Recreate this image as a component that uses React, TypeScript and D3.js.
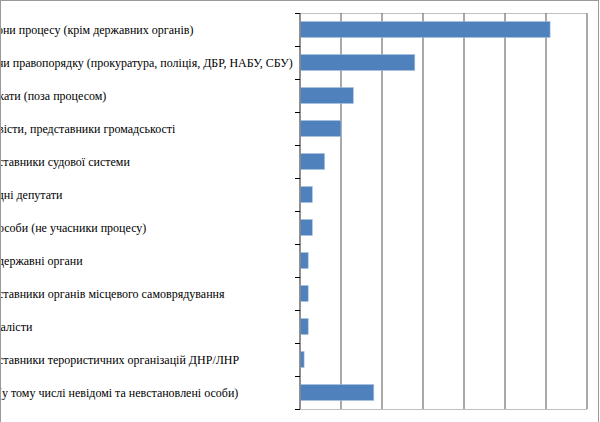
import React from "react";
import * as d3 from "d3";

const categories: string[] = [
  "Сторони процесу (крім державних органів)",
  "Органи правопорядку (прокуратура, поліція, ДБР, НАБУ, СБУ)",
  "Адвокати (поза процесом)",
  "Активісти, представники громадськості",
  "Представники судової системи",
  "Народні депутати",
  "Інші особи (не учасники процесу)",
  "Інші державні органи",
  "Представники органів місцевого самоврядування",
  "Журналісти",
  "Представники терористичних організацій ДНР/ЛНР",
  "Інші (у тому числі невідомі та невстановлені особи)",
];
const values: number[] = [61, 28, 13, 10, 6, 3, 3, 2, 2, 2, 1, 18];
const xTicks: number[] = [0, 10, 20, 30, 40, 50, 60, 70];

const W = 600;
const H = 422;
const plot = { left: 300, right: 587, top: 13, bottom: 409 };

export default function App() {
  const x = d3.scaleLinear().domain([0, 70]).range([plot.left, plot.right]);
  const y = d3
    .scaleBand<string>()
    .domain(categories)
    .range([plot.top, plot.bottom])
    .paddingInner(0.515)
    .paddingOuter(0.2575);
  const step = y.step();
  const boundaries = d3.range(categories.length + 1).map((i) => plot.top + i * step);

  return (
    <svg
      width={W}
      height={H}
      style={{ position: "absolute", left: 0, top: 0, background: "#fff" }}
    >
      <rect x={0} y={0} width={W} height={H} fill="#fff" />
      {categories.map((c) => (
        <text
          key={c}
          x={-28}
          y={(y(c) as number) + y.bandwidth() / 2 + 0.5}
          dy="0.35em"
          style={{ fontFamily: "Liberation Serif", fontSize: "12px" }}
          fill="#000"
        >
          {c}
        </text>
      ))}
      <line x1={plot.left} x2={plot.right} y1={plot.top + 0.5} y2={plot.top + 0.5} stroke="#c0c0c0" strokeWidth={1} />
      <line x1={plot.left} x2={plot.right} y1={plot.bottom + 0.5} y2={plot.bottom + 0.5} stroke="#c0c0c0" strokeWidth={1} />
      {xTicks.map((t) => (
        <line
          key={t}
          x1={x(t)}
          x2={x(t)}
          y1={plot.top}
          y2={plot.bottom}
          stroke="#858585"
          strokeWidth={1.4}
        />
      ))}
      {categories.map((c, i) => (
        <rect
          key={c}
          x={x(0)}
          y={y(c) as number}
          width={x(values[i]) - x(0)}
          height={y.bandwidth()}
          fill="#4F81BD"
          stroke="#A7C0DE"
          strokeWidth={0.6}
        />
      ))}
      <line x1={plot.left} x2={plot.left} y1={plot.top} y2={plot.bottom} stroke="#858585" strokeWidth={1.4} />
      {boundaries.map((b, i) => (
        <line key={i} x1={plot.left - 5} x2={plot.left} y1={b + 0.5} y2={b + 0.5} stroke="#000" strokeWidth={1} />
      ))}
      <rect x={0.5} y={0.5} width={598} height={H + 10} fill="none" stroke="#9a9a9a" strokeWidth={1} />
    </svg>
  );
}
